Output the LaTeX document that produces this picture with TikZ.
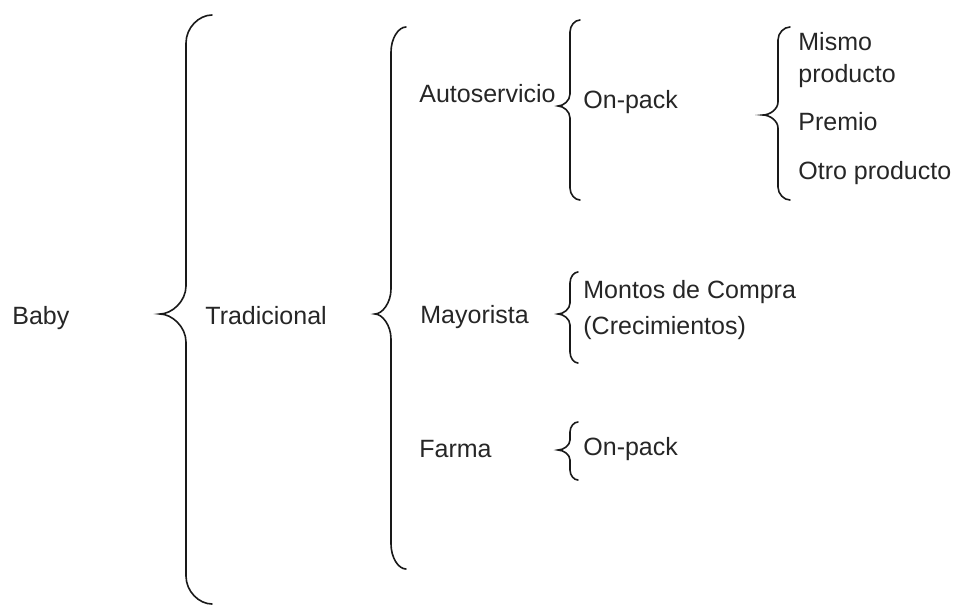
\documentclass[tikz,border=0pt]{standalone}
\usepackage{fontspec}
\setmainfont{Liberation Sans}
\usetikzlibrary{calc}

% curly brace: end x, line x, tip x, top y, tip y, bottom y, curl
\newcommand{\drawbrace}[7]{%
  \draw[brace line] (#1,#4) .. controls ({#2+0.5*(#1-#2)},#4) and (#2,{#4+0.45*#7}) .. (#2,{#4+#7})
    -- (#2,{#5-#7}) .. controls (#2,{#5-0.45*#7}) and ({#3+0.45*(#2-#3)},#5) .. (#3,#5)
    .. controls ({#3+0.45*(#2-#3)},#5) and (#2,{#5+0.45*#7}) .. (#2,{#5+#7})
    -- (#2,{#6-#7}) .. controls (#2,{#6-0.45*#7}) and ({#2+0.5*(#1-#2)},#6) .. (#1,#6);}

\begin{document}
\begin{tikzpicture}[x=0.5pt,y=-0.5pt,
    item/.style={anchor=base west,inner sep=0pt,text=black!85,font=\fontsize{12.5}{15}\selectfont},
    brace line/.style={draw=black!90,line width=0.8pt,line cap=round}]
        \useasboundingbox (0,0) rectangle (953,606);

        % Levels
        \node[item] (baby) at (12,324) {Baby};
        \node[item] (trad) at (205,324) {Tradicional};
        \node[item] (auto) at (419,102) {Autoservicio};
        \node[item] (mayor) at (420,323) {Mayorista};
        \node[item] (farma) at (419,457) {Farma};

        % Promotions
        \node[item] (onpackA) at (583,108) {On-pack};
        \foreach \t/\y [count=\i] in {Mismo/50,producto/82,Premio/130,Otro producto/179} {
            \node[item] (prod\i) at (798,\y) {\t};
        }
        \node[item] (montos) at (583,298) {Montos de Compra};
        \node[item] (crec) at (583,334) {(Crecimientos)};
        \node[item] (onpackB) at (583,455) {On-pack};

        % Braces
        \drawbrace{212}{186}{160}{15}{314}{604}{28}
        \drawbrace{406}{391}{375}{27}{314}{569}{25}
        \drawbrace{580}{570}{558}{20}{106}{200}{12}
        \drawbrace{790}{778}{763}{27}{115}{200}{13}
        \drawbrace{578}{570}{558}{272}{314}{363}{11}
        \drawbrace{578}{570}{558}{422}{450}{480}{10}
    \end{tikzpicture}
\end{document}
